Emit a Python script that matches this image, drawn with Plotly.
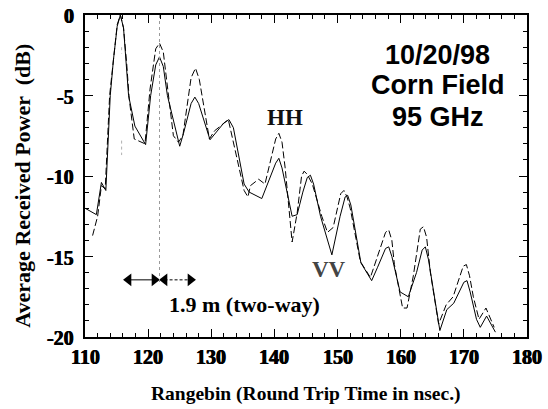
import plotly.graph_objects as go

# ---- data ----
solid_x = [110.0, 111.0, 111.8, 112.6, 113.3, 114.0, 114.5, 115.1, 115.6, 116.1,
           116.5, 116.9, 117.9, 119.6, 120.4, 121.2, 121.8, 122.4, 123.05, 125.0,
           125.6, 126.8, 127.4, 128.0, 129.8, 132.0, 132.8, 133.5, 135.2, 136.0,
           138.0, 140.2, 140.7, 141.2, 142.8, 143.6, 144.5, 145.2, 145.7, 146.2,
           147.3, 149.1, 150.4, 151.2, 151.6, 152.1, 153.7, 155.4, 156.3, 157.6,
           158.1, 158.6, 159.9, 161.2, 162.5, 163.4, 163.9, 164.4, 166.2, 167.3,
           168.4, 170.0, 170.5, 171.0, 172.0, 172.6, 173.6, 175.0]
solid_y = [-12.0, -12.2, -12.4, -10.4, -10.9, -5.0, -2.8, -0.7, 0.0, -0.8,
           -2.8, -5.0, -6.9, -8.05, -5.0, -3.1, -2.6, -3.2, -5.0, -8.15,
           -7.35, -5.5, -5.1, -5.5, -7.75, -6.7, -6.5, -7.0, -10.5, -11.0,
           -11.4, -9.2, -8.9, -9.5, -12.5, -12.4, -11.0, -10.1, -9.95, -10.5,
           -12.5, -14.9, -12.5, -11.3, -11.2, -11.8, -15.4, -16.5, -15.7, -14.5,
           -14.4, -15.0, -17.2, -17.5, -16.0, -14.6, -14.4, -15.2, -19.6, -18.3,
           -17.9, -16.6, -16.5, -17.2, -18.9, -19.4, -18.7, -19.7]

dash_x = [111.2, 112.0, 112.6, 113.2, 113.9, 114.5, 115.1, 115.6, 116.1, 116.6,
          117.0, 117.8, 119.5, 120.3, 121.2, 121.8, 122.4, 123.1, 124.0, 124.8,
          125.5, 126.8, 127.5, 128.1, 129.7, 130.5, 131.5, 132.7, 135.2, 135.8,
          136.2, 137.5, 138.5, 140.2, 140.7, 141.2, 141.7, 142.8, 143.6, 144.3,
          144.7, 145.2, 146.0, 147.5, 148.4, 149.3, 150.5, 151.0, 151.5, 152.0,
          153.6, 155.2, 157.6, 158.1, 158.6, 159.0, 160.3, 161.0, 162.0, 163.1,
          163.6, 164.1, 164.7, 166.0, 167.2, 168.3, 169.9, 170.4, 170.9, 171.5,
          172.4, 173.5, 174.8]
dash_y = [-13.7, -12.5, -10.6, -10.8, -5.0, -2.6, -0.6, 0.0, -0.8, -3.0,
          -5.2, -7.7, -8.0, -4.6, -2.1, -1.75, -2.3, -4.6, -7.5, -7.9,
          -7.5, -3.9, -3.3, -4.0, -7.7, -7.2, -6.9, -6.5, -10.9, -11.3,
          -10.6, -10.2, -10.5, -7.7, -7.35, -7.9, -9.5, -14.1, -12.3, -10.0,
          -9.7, -9.9, -10.5, -12.5, -13.5, -13.2, -11.1, -10.9, -11.3, -12.0,
          -15.3, -16.3, -13.5, -13.35, -14.0, -15.5, -18.2, -18.2, -16.2, -13.3,
          -13.15, -13.8, -16.0, -19.2, -18.0, -17.5, -15.6, -15.5, -16.2, -17.5,
          -18.9, -18.2, -19.4]

x_ticks = [110, 120, 130, 140, 150, 160, 170, 180]
y_ticks = [0, -5, -10, -15, -20]
y_tick_text = ["0", "-5", "-10", "-15", "-20"]

title_lines = ["10/20/98", "Corn Field", "95 GHz"]

# ---- decorations ----
arrow_y = -16.45
arrow_tips = [116.1, 121.8, 127.5]
head_off = 0.8

SERIF = "Liberation Serif"
SANS = "Liberation Sans"
TICKFONT = dict(family=SERIF, size=20, color="black", weight="bold",
                shadow="0.4px 0px 0px black, -0.4px 0px 0px black")

fig = go.Figure()

fig.add_trace(go.Scatter(x=solid_x, y=solid_y, mode="lines",
                         line=dict(color="black", width=1), name="VV",
                         showlegend=False))
fig.add_trace(go.Scatter(x=dash_x, y=dash_y, mode="lines",
                         line=dict(color="black", width=1, dash="7px,3px"),
                         name="HH", showlegend=False))

# arrow shafts
fig.add_trace(go.Scatter(x=[arrow_tips[0] + head_off, arrow_tips[1] - head_off],
                         y=[arrow_y, arrow_y], mode="lines",
                         line=dict(color="black", width=1), showlegend=False,
                         hoverinfo="skip"))
fig.add_trace(go.Scatter(x=[arrow_tips[1] + head_off, arrow_tips[2] - head_off],
                         y=[arrow_y, arrow_y], mode="lines",
                         line=dict(color="black", width=1, dash="3px,2px"),
                         showlegend=False, hoverinfo="skip"))
# arrow heads
fig.add_trace(go.Scatter(
    x=[arrow_tips[0] + head_off, arrow_tips[1] - head_off,
       arrow_tips[1] + head_off, arrow_tips[2] - head_off],
    y=[arrow_y] * 4, mode="markers",
    marker=dict(symbol=["triangle-left", "triangle-right",
                        "triangle-left", "triangle-right"],
                size=11, color="black", line=dict(width=0)),
    showlegend=False, hoverinfo="skip"))

shapes = [
    dict(type="line", xref="x", yref="y", x0=121.8, x1=121.8, y0=0, y1=-16.6,
         line=dict(color="#9a9a9a", width=1, dash="dot")),
    dict(type="line", xref="x", yref="y", x0=115.8, x1=115.8, y0=-7.8, y1=-8.7,
         line=dict(color="#b0b0b0", width=1, dash="dot")),
    dict(type="line", xref="x", yref="y", x0=115.8, x1=115.8, y0=-2.0, y1=-2.4,
         line=dict(color="#b0b0b0", width=1, dash="dot")),
]

annotations = []
# bold tick labels placed at the axis tick values
for v in x_ticks:
    annotations.append(dict(x=v, y=0, xref="x", yref="paper", text=str(v),
                            showarrow=False, xanchor="center", yanchor="middle",
                            yshift=-20, font=TICKFONT))
for v, t in zip(y_ticks, y_tick_text):
    annotations.append(dict(x=0, y=v, xref="paper", yref="y", text=t,
                            showarrow=False, xanchor="right", yanchor="middle",
                            xshift=-9, yshift=-1, font=TICKFONT))

for txt, yy in zip(title_lines, [-2.48, -4.35, -6.34]):
    annotations.append(dict(x=165.9, y=yy, xref="x", yref="y", text=txt,
                            showarrow=False, xanchor="center", yanchor="middle",
                            font=dict(family=SANS, size=27, color="black",
                                      weight="bold")))
annotations += [
    dict(x=141.6, y=-6.37, xref="x", yref="y", text="HH", showarrow=False,
         xanchor="center", yanchor="middle",
         font=dict(family=SERIF, size=23, color="#111", weight="bold")),
    dict(x=148.65, y=-15.8, xref="x", yref="y", text="VV", showarrow=False,
         xanchor="center", yanchor="middle",
         font=dict(family=SERIF, size=23, color="#444", weight="bold")),
    dict(x=135.2, y=-18.0, xref="x", yref="y", text="1.9 m (two-way)",
         showarrow=False, xanchor="center", yanchor="middle",
         font=dict(family=SERIF, size=22, color="black", weight="bold")),
    dict(x=0.5, y=0, xref="paper", yref="paper", yshift=-57,
         text="Rangebin (Round Trip Time in nsec.)", showarrow=False,
         xanchor="center", yanchor="middle",
         font=dict(family=SERIF, size=19.5, color="black", weight="bold")),
    dict(x=0, y=0.47, xref="paper", yref="paper", xshift=-62,
         text="Average Received Power  (dB)", showarrow=False, textangle=-90,
         xanchor="center", yanchor="middle",
         font=dict(family=SERIF, size=22, color="black", weight="bold")),
]

axis_common = dict(showline=True, linecolor="black", linewidth=1.5,
                   mirror="ticks", ticks="inside", ticklen=8, tickwidth=1.2,
                   tickcolor="black", showgrid=False, zeroline=False,
                   showticklabels=False)

fig.update_layout(
    width=548, height=409,
    margin=dict(l=84.5, r=21, t=15, b=72),
    paper_bgcolor="white", plot_bgcolor="white",
    showlegend=False,
    xaxis=dict(range=[110, 180], tickvals=x_ticks,
               minor=dict(dtick=2, ticks="inside", ticklen=4, tickwidth=1,
                          tickcolor="black", showgrid=False),
               **axis_common),
    yaxis=dict(range=[-20, 0], tickvals=y_ticks,
               minor=dict(dtick=1, ticks="inside", ticklen=4, tickwidth=1,
                          tickcolor="black", showgrid=False),
               **axis_common),
    shapes=shapes,
    annotations=annotations,
)

fig.write_html("out.html")
